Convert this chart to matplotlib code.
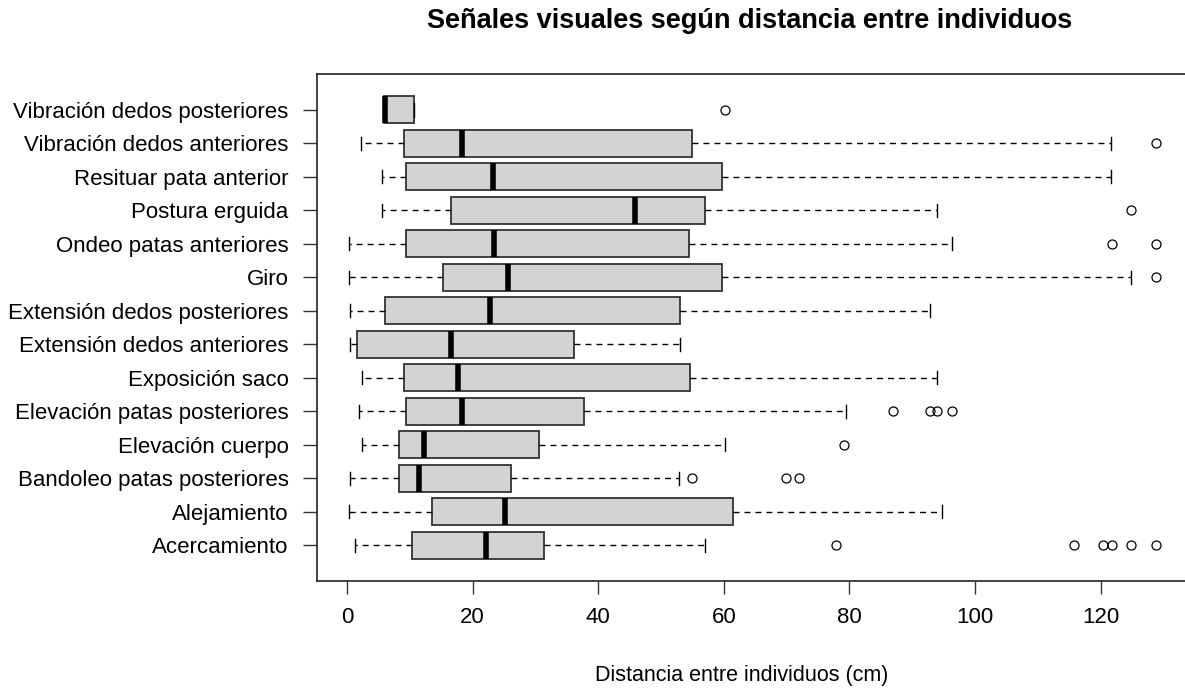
import matplotlib
matplotlib.use("Agg")
import matplotlib.pyplot as plt

plt.rcParams['font.family'] = ['Liberation Sans', 'DejaVu Sans']

# Categories from bottom (position 1) to top
categories = [
    "Acercamiento",
    "Alejamiento",
    "Bandoleo patas posteriores",
    "Elevación cuerpo",
    "Elevación patas posteriores",
    "Exposición saco",
    "Extensión dedos anteriores",
    "Extensión dedos posteriores",
    "Giro",
    "Ondeo patas anteriores",
    "Postura erguida",
    "Resituar pata anterior",
    "Vibración dedos anteriores",
    "Vibración dedos posteriores",
]
whisker_low = [1.2, 0.3, 0.5, 2.3, 1.9, 2.3, 0.5, 0.5, 0.3, 0.3, 5.6, 5.6, 2.2, 5.8]
q1 = [10.3, 13.6, 8.3, 8.3, 9.4, 9.1, 1.6, 6.0, 15.2, 9.4, 16.5, 9.4, 9.1, 5.8]
median = [22.1, 25.2, 11.4, 12.3, 18.3, 17.6, 16.5, 22.7, 25.6, 23.4, 45.9, 23.2, 18.3, 6.1]
q3 = [31.3, 61.5, 26.1, 30.5, 37.7, 54.6, 36.1, 53.0, 59.7, 54.4, 57.0, 59.7, 55.0, 10.6]
whisker_high = [57.0, 94.8, 52.9, 60.1, 79.4, 93.9, 53.0, 92.8, 124.8, 96.3, 93.9, 121.7, 121.7, 10.6]
outliers = [
    [77.9, 115.7, 120.4, 121.8, 124.8, 128.8],
    [],
    [55.0, 69.9, 71.9],
    [79.2],
    [87.0, 92.8, 94.0, 96.4],
    [],
    [],
    [],
    [128.8],
    [121.8, 128.8],
    [124.8],
    [],
    [128.8],
    [60.1],
]
x_ticks = [0, 20, 40, 60, 80, 100, 120]

title = "Señales visuales según distancia entre individuos"
xlabel = "Distancia entre individuos (cm)"

W, H = 1185, 691
fig = plt.figure(figsize=(W / 100, H / 100), dpi=100)
ax_left, ax_right = 316.5, 1188.0
ax_top, ax_bottom = 74.3, 580.7
ax = fig.add_axes([ax_left / W, 1 - ax_bottom / H,
                   (ax_right - ax_left) / W, (ax_bottom - ax_top) / H])

stats = []
for i, name in enumerate(categories):
    stats.append(dict(label=name, whislo=whisker_low[i], q1=q1[i], med=median[i],
                      q3=q3[i], whishi=whisker_high[i], fliers=outliers[i]))

n = len(categories)
ax.bxp(stats, positions=list(range(1, n + 1)), widths=0.8, vert=False,
       patch_artist=True, capwidths=0.4,
       boxprops=dict(facecolor='#D3D3D3', edgecolor='#333333', linewidth=1.3),
       medianprops=dict(color='black', linewidth=4, solid_capstyle='butt'),
       whiskerprops=dict(color='black', linewidth=1.0, linestyle=(0, (4.3, 3.6))),
       capprops=dict(color='black', linewidth=1.0),
       flierprops=dict(marker='o', markerfacecolor='none', markeredgecolor='black',
                       markersize=6.5, markeredgewidth=0.9))

ax.set_xlim(-4.87, 133.9)
ax.set_ylim(-0.06, n + 1.06)
ax.set_xticks(x_ticks)
ax.set_xticklabels([str(t) for t in x_ticks])
ax.set_yticks(list(range(1, n + 1)))
ax.set_yticklabels(categories)
ax.tick_params(axis='y', length=10, width=1.0, pad=10, labelsize=16, color='#333333')
ax.tick_params(axis='x', length=9, width=1.0, pad=10, labelsize=16, color='#333333')
for s in ax.spines.values():
    s.set_linewidth(1.2)
    s.set_color('#222222')

fig.text(750 / W, 1 - 21 / H, title, ha='center', va='center',
         fontsize=19.5, fontweight='bold')
fig.text(742 / W, 1 - 676 / H, xlabel, ha='center', va='center', fontsize=15.5)

fig.savefig("out.png", dpi=100)
